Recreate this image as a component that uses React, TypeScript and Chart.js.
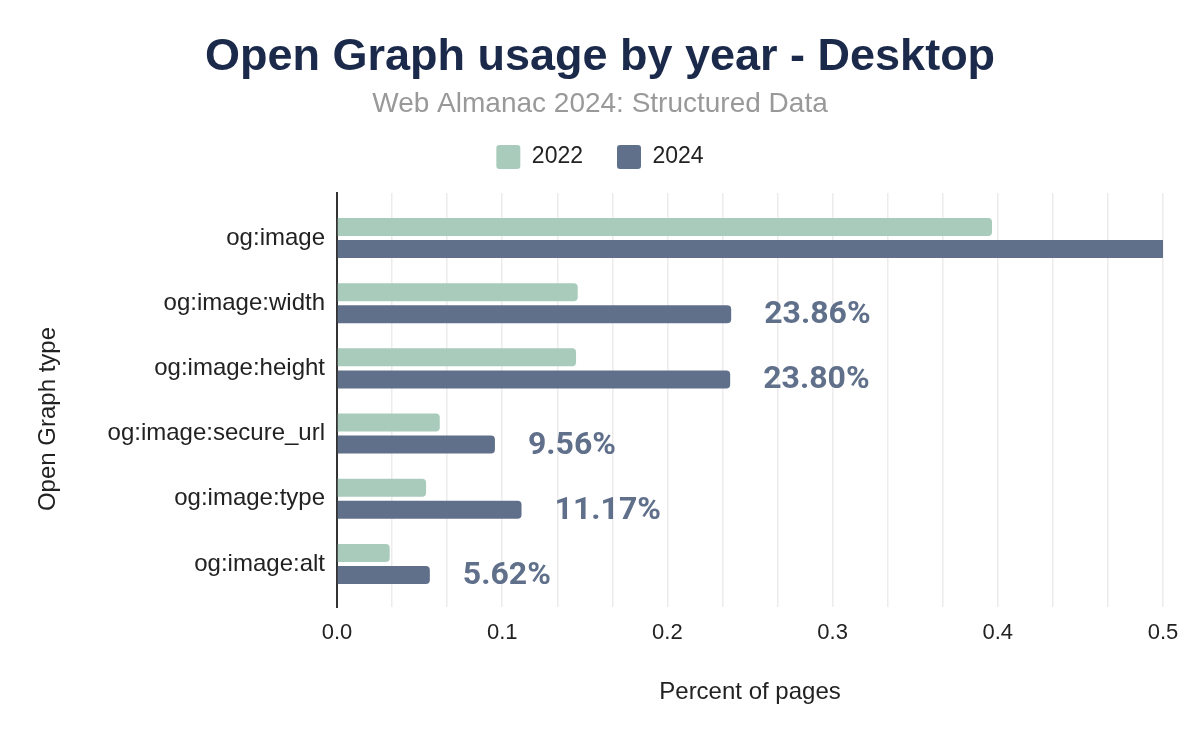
import React, { useEffect, useRef } from 'react';
import { Chart, registerables } from 'chart.js';

Chart.register(...registerables);

// ---- data ----
const categories = [
  'og:image',
  'og:image:width',
  'og:image:height',
  'og:image:secure_url',
  'og:image:type',
  'og:image:alt',
];
const seriesNames = ['2022', '2024'];
const values2022 = [0.3965, 0.1457, 0.1447, 0.0622, 0.0539, 0.0319];
const values2024 = [0.52, 0.2386, 0.238, 0.0956, 0.1117, 0.0562];
const xMin = 0;
const xMax = 0.5;
const gridStep = 0.5 / 15; // faint vertical gridlines
const labelStep = 0.1; // labelled ticks

const titleText = 'Open Graph usage by year - Desktop';
const subtitleText = 'Web Almanac 2024: Structured Data';
const xTitle = 'Percent of pages';
const yTitle = 'Open Graph type';

const COLOR_2022 = '#a8cbbb';
const COLOR_2024 = '#60708b';
const TEXT = '#222222';
const SANS = '"Liberation Sans", Arial, sans-serif';

const valueLabelPlugin = {
  id: 'valueLabels',
  afterDatasetsDraw(chart: any) {
    const { ctx } = chart;
    const xScale = chart.scales.x;
    const meta = chart.getDatasetMeta(1);
    ctx.save();
    ctx.font = '700 32px Roboto, "Liberation Sans", sans-serif';
    ctx.fillStyle = COLOR_2024;
    ctx.textAlign = 'left';
    ctx.textBaseline = 'middle';
    meta.data.forEach((bar: any, i: number) => {
      const v = values2024[i];
      if (v > xScale.max) return;
      ctx.fillText(`${(v * 100).toFixed(2)}%`, bar.x + 33, bar.y + 1);
    });
    ctx.restore();
  },
};

// y-axis title, drawn slightly below the plot's middle as in the reference
const yTitlePlugin = {
  id: 'yTitle',
  afterDraw(chart: any) {
    const { ctx, chartArea } = chart;
    const yScale = chart.scales.y;
    ctx.save();
    ctx.font = `24px ${SANS}`;
    ctx.fillStyle = TEXT;
    ctx.textAlign = 'center';
    ctx.textBaseline = 'middle';
    ctx.translate(yScale.left + 11, (chartArea.top + chartArea.bottom) / 2 + 19);
    ctx.rotate(-Math.PI / 2);
    ctx.fillText(yTitle, 0, 0);
    ctx.restore();
  },
};

export default function App() {
  const ref = useRef<HTMLCanvasElement>(null);

  useEffect(() => {
    const toPoints = (arr: number[]) => arr.map((v, i) => ({ x: v, y: i }));
    const chart = new Chart(ref.current as HTMLCanvasElement, {
      type: 'bar',
      data: {
        datasets: [
          {
            label: seriesNames[0],
            data: toPoints(values2022),
            backgroundColor: COLOR_2022,
            borderRadius: 4,
            borderSkipped: 'start',
            barPercentage: 0.818,
            categoryPercentage: 0.676,
          },
          {
            label: seriesNames[1],
            data: toPoints(values2024),
            backgroundColor: COLOR_2024,
            borderRadius: 4,
            borderSkipped: 'start',
            barPercentage: 0.818,
            categoryPercentage: 0.676,
          },
        ] as any,
      },
      options: {
        indexAxis: 'y',
        animation: false,
        responsive: true,
        maintainAspectRatio: false,
        layout: { padding: { left: 37, right: 37, top: 0, bottom: 0 } },
        plugins: {
          title: {
            display: true,
            text: titleText,
            color: '#1b2a4a',
            font: { family: SANS, size: 45, weight: 'bold', lineHeight: 1.2 },
            padding: { top: 31, bottom: 0 },
          },
          subtitle: {
            display: true,
            text: subtitleText,
            color: '#999999',
            font: { family: SANS, size: 28, weight: 'normal', lineHeight: 1.2 },
            padding: { top: 2.2, bottom: -9.8 },
          },
          legend: {
            display: true,
            position: 'top',
            align: 'center',
            labels: {
              color: TEXT,
              font: { family: SANS, size: 23 },
              boxWidth: 24,
              boxHeight: 24,
              useBorderRadius: true,
              borderRadius: 3,
              padding: 34,
            },
          },
          tooltip: { enabled: false },
        },
        scales: {
          x: {
            type: 'linear',
            position: 'bottom',
            min: xMin,
            max: xMax,
            bounds: 'data',
            afterBuildTicks: (scale: any) => {
              const n = Math.round((xMax - xMin) / gridStep);
              const ticks = [];
              for (let i = 0; i <= n; i++) ticks.push({ value: xMin + i * gridStep });
              scale.ticks = ticks;
            },
            afterFit: (scale: any) => {
              scale.height = 135;
            },
            ticks: {
              autoSkip: false,
              maxRotation: 0,
              padding: 13,
              color: TEXT,
              font: { family: SANS, size: 22 },
              callback: (value: any) => {
                const r = Math.round(value / labelStep);
                return Math.abs(value / labelStep - r) < 1e-6 ? (r * labelStep).toFixed(1) : '';
              },
            },
            grid: { display: true, color: '#ececec', lineWidth: 1.5, drawTicks: false },
            border: { display: false },
            title: {
              display: true,
              text: xTitle,
              color: TEXT,
              font: { family: SANS, size: 24, lineHeight: 1.2 },
              padding: { top: 0, bottom: 35 },
            },
          },
          xPad: {
            type: 'linear',
            position: 'top',
            display: true,
            ticks: { display: false },
            grid: { display: false, drawTicks: false },
            border: { display: false },
            afterFit: (scale: any) => {
              scale.height = 14;
            },
          },
          y: {
            type: 'linear',
            reverse: true,
            offset: false,
            bounds: 'data',
            min: -0.69,
            max: categories.length - 1 + 0.66,
            afterBuildTicks: (scale: any) => {
              scale.ticks = categories.map((_, i) => ({ value: i }));
            },
            afterFit: (scale: any) => {
              scale.width = 300;
            },
            ticks: {
              autoSkip: false,
              padding: 12,
              color: TEXT,
              font: { family: SANS, size: 24 },
              callback: (value: any) => categories[Math.round(value)] ?? '',
            },
            grid: { display: false, drawTicks: false, offset: false },
            border: { display: true, color: '#333333', width: 2 },
            title: { display: false },
          },
        },
      } as any,
      plugins: [valueLabelPlugin, yTitlePlugin],
    });
    return () => chart.destroy();
  }, []);

  return (
    <div style={{ position: 'fixed', left: 0, top: 0, width: 1200, height: 742, background: '#ffffff' }}>
      <canvas ref={ref} />
    </div>
  );
}
